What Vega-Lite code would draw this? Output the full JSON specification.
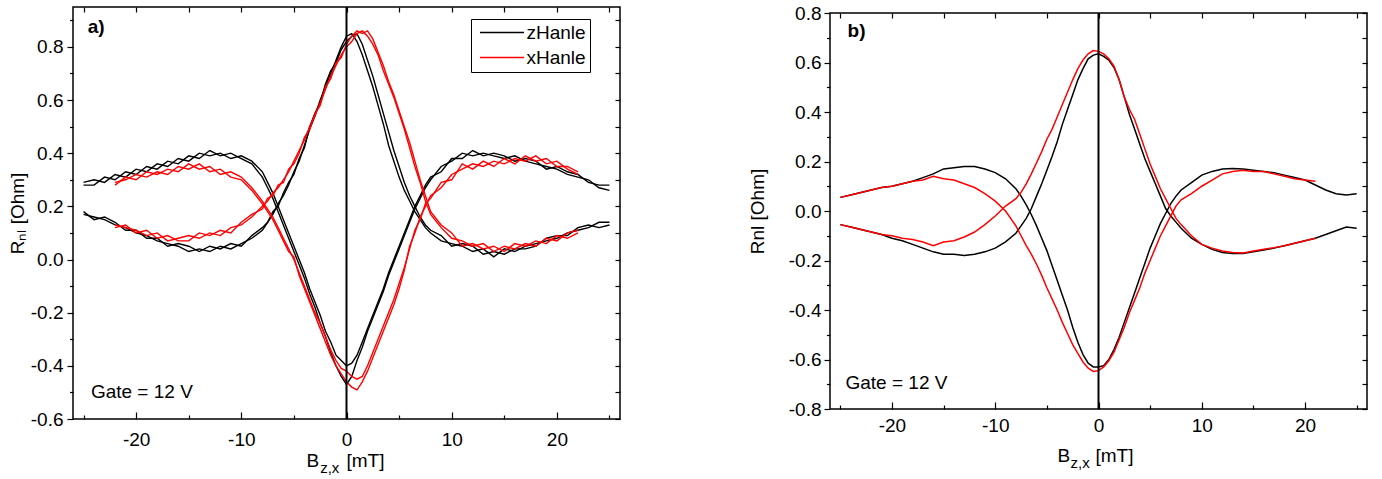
{
  "$schema": "https://vega.github.io/schema/vega-lite/v6.json",
  "background": "white",
  "padding": {"left": 7, "top": 3, "right": 0, "bottom": 0},
  "spacing": 125,
  "config": {
    "font": "Liberation Sans",
    "view": {"stroke": "black", "strokeWidth": 1.5},
    "axis": {"labelFont": "Liberation Sans", "labelFontSize": 19, "labelColor": "black", "tickColor": "black", "tickWidth": 1.2, "domain": false, "grid": false, "titleFont": "Liberation Sans", "titleFontSize": 19, "titleFontWeight": "normal", "titleColor": "black"},
    "legend": {"orient": "none", "symbolType": "M-4,0H4", "symbolSize": 121, "symbolStrokeWidth": 1.5, "labelFontSize": 19, "labelFont": "Liberation Sans", "labelColor": "black", "strokeColor": "black", "strokeWidth": 1, "padding": 4, "rowPadding": 5, "symbolOffset": 17.5, "labelOffset": 15, "fillColor": "white"},
    "text": {"font": "Liberation Sans", "fontSize": 19, "color": "black"}
  },
  "datasets": {
    "a": [
      {"B":-25,"zP1":0.17,"zP2":0.18,"zD1":0.28,"zD2":0.29},
      {"B":-24,"zP1":0.16,"zP2":0.15,"zD1":0.28,"zD2":0.30},
      {"B":-23,"zP1":0.15,"zP2":0.16,"zD1":0.31,"zD2":0.29},
      {"B":-22,"zP1":0.13,"zP2":0.14,"zD1":0.30,"zD2":0.32,"xP1":0.13,"xP2":0.12,"xD1":0.29,"xD2":0.28},
      {"B":-21,"zP1":0.12,"zP2":0.11,"zD1":0.33,"zD2":0.31,"xP1":0.12,"xP2":0.13,"xD1":0.30,"xD2":0.31},
      {"B":-20,"zP1":0.10,"zP2":0.11,"zD1":0.32,"zD2":0.34,"xP1":0.11,"xP2":0.10,"xD1":0.32,"xD2":0.30},
      {"B":-19,"zP1":0.09,"zP2":0.08,"zD1":0.35,"zD2":0.33,"xP1":0.09,"xP2":0.11,"xD1":0.31,"xD2":0.33},
      {"B":-18,"zP1":0.07,"zP2":0.08,"zD1":0.34,"zD2":0.36,"xP1":0.10,"xP2":0.08,"xD1":0.33,"xD2":0.32},
      {"B":-17,"zP1":0.06,"zP2":0.05,"zD1":0.37,"zD2":0.35,"xP1":0.07,"xP2":0.09,"xD1":0.32,"xD2":0.34},
      {"B":-16,"zP1":0.05,"zP2":0.06,"zD1":0.36,"zD2":0.38,"xP1":0.08,"xP2":0.07,"xD1":0.35,"xD2":0.33},
      {"B":-15,"zP1":0.03,"zP2":0.05,"zD1":0.39,"zD2":0.37,"xP1":0.09,"xP2":0.07,"xD1":0.34,"xD2":0.36},
      {"B":-14,"zP1":0.04,"zP2":0.03,"zD1":0.38,"zD2":0.40,"xP1":0.08,"xP2":0.10,"xD1":0.36,"xD2":0.34},
      {"B":-13,"zP1":0.03,"zP2":0.05,"zD1":0.41,"zD2":0.39,"xP1":0.10,"xP2":0.09,"xD1":0.33,"xD2":0.35},
      {"B":-12,"zP1":0.05,"zP2":0.04,"zD1":0.39,"zD2":0.40,"xP1":0.09,"xP2":0.11,"xD1":0.34,"xD2":0.32},
      {"B":-11,"zP1":0.04,"zP2":0.06,"zD1":0.40,"zD2":0.38,"xP1":0.12,"xP2":0.10,"xD1":0.31,"xD2":0.33},
      {"B":-10,"zP1":0.06,"zP2":0.05,"zD1":0.38,"zD2":0.39,"xP1":0.13,"xP2":0.14,"xD1":0.30,"xD2":0.31},
      {"B":-9,"zP1":0.08,"zP2":0.09,"zD1":0.36,"zD2":0.37,"xP1":0.16,"xP2":0.17,"xD1":0.26,"xD2":0.27},
      {"B":-8,"zP1":0.11,"zP2":0.12,"zD1":0.31,"zD2":0.33,"xP1":0.20,"xP2":0.19,"xD1":0.21,"xD2":0.22},
      {"B":-7.5,"zP1":0.14,"zP2":0.14,"zD1":0.27,"zD2":0.29,"xP1":0.22,"xP2":0.23,"xD1":0.18,"xD2":0.19},
      {"B":-7,"zP1":0.17,"zP2":0.18,"zD1":0.23,"zD2":0.25,"xP1":0.25,"xP2":0.24,"xD1":0.15,"xD2":0.16},
      {"B":-6.5,"zP1":0.21,"zP2":0.20,"zD1":0.18,"zD2":0.20,"xP1":0.27,"xP2":0.28,"xD1":0.11,"xD2":0.12},
      {"B":-6,"zP1":0.24,"zP2":0.25,"zD1":0.13,"zD2":0.15,"xP1":0.30,"xP2":0.29,"xD1":0.07,"xD2":0.08},
      {"B":-5.5,"zP1":0.28,"zP2":0.29,"zD1":0.08,"zD2":0.10,"xP1":0.33,"xP2":0.34,"xD1":0.03,"xD2":0.04},
      {"B":-5,"zP1":0.33,"zP2":0.32,"zD1":0.03,"zD2":0.05,"xP1":0.37,"xP2":0.36,"xD1":0.01,"xD2":0.00},
      {"B":-4.5,"zP1":0.37,"zP2":0.38,"zD1":-0.02,"zD2":0.00,"xP1":0.41,"xP2":0.40,"xD1":-0.06,"xD2":-0.05},
      {"B":-4,"zP1":0.43,"zP2":0.42,"zD1":-0.07,"zD2":-0.05,"xP1":0.45,"xP2":0.46,"xD1":-0.11,"xD2":-0.10},
      {"B":-3.5,"zP1":0.49,"zP2":0.50,"zD1":-0.13,"zD2":-0.11,"xP1":0.50,"xP2":0.49,"xD1":-0.16,"xD2":-0.15},
      {"B":-3,"zP1":0.54,"zP2":0.55,"zD1":-0.18,"zD2":-0.16,"xP1":0.54,"xP2":0.55,"xD1":-0.21,"xD2":-0.20},
      {"B":-2.5,"zP1":0.60,"zP2":0.59,"zD1":-0.24,"zD2":-0.21,"xP1":0.59,"xP2":0.58,"xD1":-0.26,"xD2":-0.24},
      {"B":-2,"zP1":0.65,"zP2":0.66,"zD1":-0.29,"zD2":-0.27,"xP1":0.64,"xP2":0.65,"xD1":-0.31,"xD2":-0.29},
      {"B":-1.5,"zP1":0.70,"zP2":0.71,"zD1":-0.35,"zD2":-0.31,"xP1":0.69,"xP2":0.68,"xD1":-0.36,"xD2":-0.34},
      {"B":-1,"zP1":0.75,"zP2":0.74,"zD1":-0.40,"zD2":-0.36,"xP1":0.73,"xP2":0.74,"xD1":-0.40,"xD2":-0.38},
      {"B":-0.5,"zP1":0.80,"zP2":0.79,"zD1":-0.44,"zD2":-0.38,"xP1":0.77,"xP2":0.76,"xD1":-0.43,"xD2":-0.41},
      {"B":0,"zP1":0.84,"zP2":0.82,"zD1":-0.47,"zD2":-0.40,"xP1":0.80,"xP2":0.81,"xD1":-0.46,"xD2":-0.42},
      {"B":0.5,"zP1":0.85,"zP2":0.84,"zD1":-0.44,"zD2":-0.39,"xP1":0.82,"xP2":0.84,"xD1":-0.48,"xD2":-0.44},
      {"B":1,"zP1":0.82,"zP2":0.85,"zD1":-0.38,"zD2":-0.36,"xP1":0.85,"xP2":0.86,"xD1":-0.49,"xD2":-0.45},
      {"B":1.5,"zP1":0.77,"zP2":0.81,"zD1":-0.33,"zD2":-0.31,"xP1":0.86,"xP2":0.85,"xD1":-0.46,"xD2":-0.44},
      {"B":2,"zP1":0.71,"zP2":0.75,"zD1":-0.27,"zD2":-0.26,"xP1":0.84,"xP2":0.86,"xD1":-0.42,"xD2":-0.40},
      {"B":2.5,"zP1":0.65,"zP2":0.69,"zD1":-0.22,"zD2":-0.21,"xP1":0.81,"xP2":0.83,"xD1":-0.37,"xD2":-0.35},
      {"B":3,"zP1":0.58,"zP2":0.62,"zD1":-0.17,"zD2":-0.16,"xP1":0.77,"xP2":0.78,"xD1":-0.32,"xD2":-0.30},
      {"B":3.5,"zP1":0.51,"zP2":0.55,"zD1":-0.12,"zD2":-0.11,"xP1":0.71,"xP2":0.73,"xD1":-0.27,"xD2":-0.25},
      {"B":4,"zP1":0.43,"zP2":0.48,"zD1":-0.06,"zD2":-0.05,"xP1":0.66,"xP2":0.67,"xD1":-0.22,"xD2":-0.20},
      {"B":4.5,"zP1":0.37,"zP2":0.41,"zD1":-0.01,"zD2":0.00,"xP1":0.61,"xP2":0.62,"xD1":-0.17,"xD2":-0.15},
      {"B":5,"zP1":0.31,"zP2":0.35,"zD1":0.04,"zD2":0.05,"xP1":0.55,"xP2":0.56,"xD1":-0.11,"xD2":-0.09},
      {"B":5.5,"zP1":0.26,"zP2":0.29,"zD1":0.09,"zD2":0.10,"xP1":0.49,"xP2":0.50,"xD1":-0.04,"xD2":-0.03},
      {"B":6,"zP1":0.22,"zP2":0.24,"zD1":0.14,"zD2":0.15,"xP1":0.42,"xP2":0.44,"xD1":0.05,"xD2":0.04},
      {"B":6.5,"zP1":0.18,"zP2":0.20,"zD1":0.19,"zD2":0.20,"xP1":0.35,"xP2":0.37,"xD1":0.10,"xD2":0.11},
      {"B":7,"zP1":0.15,"zP2":0.16,"zD1":0.23,"zD2":0.24,"xP1":0.29,"xP2":0.30,"xD1":0.16,"xD2":0.15},
      {"B":7.5,"zP1":0.12,"zP2":0.13,"zD1":0.27,"zD2":0.28,"xP1":0.22,"xP2":0.24,"xD1":0.20,"xD2":0.21},
      {"B":8,"zP1":0.10,"zP2":0.11,"zD1":0.30,"zD2":0.31,"xP1":0.17,"xP2":0.18,"xD1":0.24,"xD2":0.23},
      {"B":9,"zP1":0.07,"zP2":0.09,"zD1":0.35,"zD2":0.33,"xP1":0.12,"xP2":0.13,"xD1":0.27,"xD2":0.29},
      {"B":10,"zP1":0.06,"zP2":0.05,"zD1":0.37,"zD2":0.38,"xP1":0.08,"xP2":0.10,"xD1":0.32,"xD2":0.30},
      {"B":11,"zP1":0.05,"zP2":0.06,"zD1":0.40,"zD2":0.38,"xP1":0.07,"xP2":0.05,"xD1":0.34,"xD2":0.36},
      {"B":12,"zP1":0.03,"zP2":0.05,"zD1":0.39,"zD2":0.41,"xP1":0.05,"xP2":0.06,"xD1":0.36,"xD2":0.34},
      {"B":13,"zP1":0.04,"zP2":0.02,"zD1":0.40,"zD2":0.39,"xP1":0.06,"xP2":0.04,"xD1":0.35,"xD2":0.37},
      {"B":14,"zP1":0.01,"zP2":0.03,"zD1":0.39,"zD2":0.40,"xP1":0.03,"xP2":0.05,"xD1":0.37,"xD2":0.35},
      {"B":15,"zP1":0.04,"zP2":0.02,"zD1":0.38,"zD2":0.39,"xP1":0.05,"xP2":0.03,"xD1":0.36,"xD2":0.38},
      {"B":16,"zP1":0.03,"zP2":0.04,"zD1":0.39,"zD2":0.37,"xP1":0.04,"xP2":0.06,"xD1":0.38,"xD2":0.36},
      {"B":17,"zP1":0.05,"zP2":0.04,"zD1":0.37,"zD2":0.38,"xP1":0.06,"xP2":0.05,"xD1":0.37,"xD2":0.39},
      {"B":18,"zP1":0.06,"zP2":0.05,"zD1":0.36,"zD2":0.37,"xP1":0.05,"xP2":0.07,"xD1":0.39,"xD2":0.37},
      {"B":19,"zP1":0.07,"zP2":0.08,"zD1":0.35,"zD2":0.34,"xP1":0.08,"xP2":0.06,"xD1":0.36,"xD2":0.38},
      {"B":20,"zP1":0.08,"zP2":0.09,"zD1":0.34,"zD2":0.35,"xP1":0.07,"xP2":0.09,"xD1":0.37,"xD2":0.35},
      {"B":21,"zP1":0.10,"zP2":0.09,"zD1":0.32,"zD2":0.33,"xP1":0.10,"xP2":0.08,"xD1":0.34,"xD2":0.35},
      {"B":22,"zP1":0.11,"zP2":0.12,"zD1":0.31,"zD2":0.32,"xP1":0.11,"xP2":0.10,"xD1":0.32,"xD2":0.33},
      {"B":23,"zP1":0.12,"zP2":0.13,"zD1":0.30,"zD2":0.29},
      {"B":24,"zP1":0.14,"zP2":0.12,"zD1":0.27,"zD2":0.28},
      {"B":25,"zP1":0.14,"zP2":0.13,"zD1":0.26,"zD2":0.28}
    ],
    "b": [
      {"B":-25,"zP":-0.055,"zD":0.055,"xP":-0.055,"xD":0.055},
      {"B":-24,"zP":-0.065,"zD":0.065,"xP":-0.065,"xD":0.065},
      {"B":-23,"zP":-0.075,"zD":0.075,"xP":-0.075,"xD":0.075},
      {"B":-22,"zP":-0.085,"zD":0.085,"xP":-0.085,"xD":0.085},
      {"B":-21,"zP":-0.095,"zD":0.095,"xP":-0.095,"xD":0.095},
      {"B":-20,"zP":-0.11,"zD":0.10,"xP":-0.10,"xD":0.10},
      {"B":-19,"zP":-0.12,"zD":0.11,"xP":-0.11,"xD":0.11},
      {"B":-18,"zP":-0.135,"zD":0.12,"xP":-0.115,"xD":0.12},
      {"B":-17,"zP":-0.15,"zD":0.135,"xP":-0.125,"xD":0.125},
      {"B":-16,"zP":-0.165,"zD":0.15,"xP":-0.14,"xD":0.14},
      {"B":-15,"zP":-0.175,"zD":0.17,"xP":-0.125,"xD":0.13},
      {"B":-14,"zP":-0.175,"zD":0.175,"xP":-0.12,"xD":0.125},
      {"B":-13,"zP":-0.18,"zD":0.18,"xP":-0.105,"xD":0.11},
      {"B":-12,"zP":-0.175,"zD":0.18,"xP":-0.085,"xD":0.095},
      {"B":-11,"zP":-0.165,"zD":0.17,"xP":-0.055,"xD":0.07},
      {"B":-10,"zP":-0.15,"zD":0.155,"xP":-0.02,"xD":0.04},
      {"B":-9,"zP":-0.125,"zD":0.13,"xP":0.02,"xD":0.0},
      {"B":-8,"zP":-0.09,"zD":0.09,"xP":0.05,"xD":-0.06},
      {"B":-7.5,"zP":-0.06,"zD":0.06,"xP":0.075,"xD":-0.10},
      {"B":-7,"zP":-0.03,"zD":0.025,"xP":0.11,"xD":-0.14},
      {"B":-6.5,"zP":0.01,"zD":-0.015,"xP":0.15,"xD":-0.175},
      {"B":-6,"zP":0.06,"zD":-0.06,"xP":0.195,"xD":-0.215},
      {"B":-5.5,"zP":0.11,"zD":-0.11,"xP":0.24,"xD":-0.26},
      {"B":-5,"zP":0.165,"zD":-0.16,"xP":0.29,"xD":-0.31},
      {"B":-4.5,"zP":0.22,"zD":-0.22,"xP":0.33,"xD":-0.355},
      {"B":-4,"zP":0.28,"zD":-0.28,"xP":0.38,"xD":-0.40},
      {"B":-3.5,"zP":0.35,"zD":-0.34,"xP":0.43,"xD":-0.45},
      {"B":-3,"zP":0.41,"zD":-0.40,"xP":0.48,"xD":-0.495},
      {"B":-2.5,"zP":0.47,"zD":-0.47,"xP":0.53,"xD":-0.54},
      {"B":-2,"zP":0.53,"zD":-0.53,"xP":0.575,"xD":-0.575},
      {"B":-1.5,"zP":0.575,"zD":-0.58,"xP":0.61,"xD":-0.61},
      {"B":-1,"zP":0.615,"zD":-0.615,"xP":0.635,"xD":-0.635},
      {"B":-0.5,"zP":0.63,"zD":-0.63,"xP":0.648,"xD":-0.648},
      {"B":0,"zP":0.635,"zD":-0.63,"xP":0.645,"xD":-0.645},
      {"B":0.5,"zP":0.625,"zD":-0.625,"xP":0.635,"xD":-0.63},
      {"B":1,"zP":0.61,"zD":-0.60,"xP":0.615,"xD":-0.605},
      {"B":1.5,"zP":0.58,"zD":-0.56,"xP":0.585,"xD":-0.57},
      {"B":2,"zP":0.53,"zD":-0.51,"xP":0.53,"xD":-0.52},
      {"B":2.5,"zP":0.46,"zD":-0.45,"xP":0.46,"xD":-0.47},
      {"B":3,"zP":0.39,"zD":-0.39,"xP":0.41,"xD":-0.41},
      {"B":3.5,"zP":0.33,"zD":-0.33,"xP":0.37,"xD":-0.36},
      {"B":4,"zP":0.27,"zD":-0.27,"xP":0.31,"xD":-0.31},
      {"B":4.5,"zP":0.21,"zD":-0.21,"xP":0.25,"xD":-0.25},
      {"B":5,"zP":0.16,"zD":-0.15,"xP":0.19,"xD":-0.20},
      {"B":5.5,"zP":0.11,"zD":-0.10,"xP":0.14,"xD":-0.15},
      {"B":6,"zP":0.06,"zD":-0.05,"xP":0.09,"xD":-0.10},
      {"B":6.5,"zP":0.01,"zD":-0.01,"xP":0.05,"xD":-0.06},
      {"B":7,"zP":-0.02,"zD":0.03,"xP":0.01,"xD":-0.02},
      {"B":7.5,"zP":-0.045,"zD":0.06,"xP":-0.03,"xD":0.02},
      {"B":8,"zP":-0.07,"zD":0.085,"xP":-0.055,"xD":0.045},
      {"B":9,"zP":-0.11,"zD":0.115,"xP":-0.10,"xD":0.07},
      {"B":10,"zP":-0.135,"zD":0.145,"xP":-0.135,"xD":0.10},
      {"B":11,"zP":-0.155,"zD":0.16,"xP":-0.15,"xD":0.125},
      {"B":12,"zP":-0.168,"zD":0.17,"xP":-0.162,"xD":0.15},
      {"B":13,"zP":-0.172,"zD":0.172,"xP":-0.168,"xD":0.16},
      {"B":14,"zP":-0.172,"zD":0.17,"xP":-0.17,"xD":0.165},
      {"B":15,"zP":-0.165,"zD":0.165,"xP":-0.162,"xD":0.16},
      {"B":16,"zP":-0.158,"zD":0.16,"xP":-0.155,"xD":0.16},
      {"B":17,"zP":-0.15,"zD":0.155,"xP":-0.148,"xD":0.15},
      {"B":18,"zP":-0.14,"zD":0.145,"xP":-0.14,"xD":0.14},
      {"B":19,"zP":-0.13,"zD":0.135,"xP":-0.13,"xD":0.13},
      {"B":20,"zP":-0.12,"zD":0.125,"xP":-0.12,"xD":0.125},
      {"B":21,"zP":-0.11,"zD":0.105,"xP":-0.11,"xD":0.12},
      {"B":22,"zP":-0.095,"zD":0.085},
      {"B":23,"zP":-0.08,"zD":0.07},
      {"B":24,"zP":-0.065,"zD":0.065},
      {"B":25,"zP":-0.07,"zD":0.07}
    ]
  },
  "hconcat": [
    {
      "width": 547,
      "height": 412,
      "data": {"name": "a"},
      "resolve": {"axis": {"x": "independent", "y": "independent"}},
      "layer": [
        {
          "transform": [{"fold": ["zP1", "zP2", "zD1", "zD2"], "as": ["k", "R"]}],
          "mark": {"type": "line", "strokeWidth": 1.4},
          "encoding": {
            "x": {"field": "B", "type": "quantitative", "scale": {"domain": [-26, 26], "nice": false, "zero": false},
              "axis": {"orient": "bottom", "title": null, "values": [-25, -20, -15, -10, -5, 0, 5, 10, 15, 20, 25], "labelExpr": "datum.value % 10 === 0 ? replace(datum.label, '\u2212', '-') : ''", "tickSize": {"condition": {"test": "datum.value % 10 === 0", "value": -7}, "value": -4}, "labelPadding": 18}},
            "y": {"field": "R", "type": "quantitative", "scale": {"domain": [-0.6, 0.95], "nice": false, "zero": false},
              "axis": {"orient": "left", "title": "R\u2099\u2097 [Ohm]", "titlePadding": 3, "values": [-0.6, -0.5, -0.4, -0.3, -0.2, -0.1, 0, 0.1, 0.2, 0.3, 0.4, 0.5, 0.6, 0.7, 0.8, 0.9], "labelExpr": "abs(round(datum.value*10)) % 2 === 0 ? replace(format(datum.value, '.1f'), '\u2212', '-') : ''", "tickSize": {"condition": {"test": "abs(round(datum.value*10)) % 2 === 0", "value": 6}, "value": 3.5}, "labelPadding": 4}},
            "color": {"datum": "zHanle", "type": "nominal", "scale": {"domain": ["zHanle", "xHanle"], "range": ["#000000", "#ff0000"]}, "legend": {"title": null, "legendX": 398, "legendY": 12}},
            "detail": {"field": "k", "type": "nominal"}
          }
        },
        {
          "transform": [{"fold": ["xP1", "xP2", "xD1", "xD2"], "as": ["k", "R"]}],
          "mark": {"type": "line", "strokeWidth": 1.4},
          "encoding": {
            "x": {"field": "B", "type": "quantitative",
              "axis": {"orient": "top", "title": null, "labels": false, "values": [-25, -20, -15, -10, -5, 0, 5, 10, 15, 20, 25], "tickSize": -5}},
            "y": {"field": "R", "type": "quantitative",
              "axis": {"orient": "right", "title": null, "labels": false, "values": [-0.6, -0.5, -0.4, -0.3, -0.2, -0.1, 0, 0.1, 0.2, 0.3, 0.4, 0.5, 0.6, 0.7, 0.8, 0.9], "tickSize": -5}},
            "color": {"datum": "xHanle", "type": "nominal"},
            "detail": {"field": "k", "type": "nominal"}
          }
        },
        {
          "data": {"values": [{}]},
          "mark": {"type": "rule", "strokeWidth": 2, "color": "black"},
          "encoding": {"x": {"datum": 0, "type": "quantitative", "axis": null}}
        },
        {
          "data": {"values": [{"t": "a)"}]},
          "mark": {"type": "text", "fontWeight": "bold", "align": "left", "baseline": "middle"},
          "encoding": {"text": {"field": "t"}, "x": {"datum": -24.6, "type": "quantitative", "axis": null}, "y": {"datum": 0.875, "type": "quantitative", "axis": null}}
        },
        {
          "data": {"values": [{"t": "Gate = 12 V"}]},
          "mark": {"type": "text", "align": "left", "baseline": "middle"},
          "encoding": {"text": {"field": "t"}, "x": {"datum": -24.3, "type": "quantitative", "axis": null}, "y": {"datum": -0.5, "type": "quantitative", "axis": null}}
        },
        {
          "data": {"values": [{"t": "B"}]},
          "mark": {"type": "text", "align": "left", "baseline": "alphabetic"},
          "encoding": {"text": {"field": "t"}, "x": {"datum": -3.81, "type": "quantitative", "axis": null}, "y": {"datum": -0.781, "type": "quantitative", "axis": null}}
        },
        {
          "data": {"values": [{"t": "z,x"}]},
          "mark": {"type": "text", "align": "left", "baseline": "alphabetic", "fontSize": 15},
          "encoding": {"text": {"field": "t"}, "x": {"datum": -2.5, "type": "quantitative", "axis": null}, "y": {"datum": -0.802, "type": "quantitative", "axis": null}}
        },
        {
          "data": {"values": [{"t": "[mT]"}]},
          "mark": {"type": "text", "align": "left", "baseline": "alphabetic"},
          "encoding": {"text": {"field": "t"}, "x": {"datum": 0.0, "type": "quantitative", "axis": null}, "y": {"datum": -0.781, "type": "quantitative", "axis": null}}
        }
      ]
    },
    {
      "bounds": "flush",
      "spacing": 5,
      "vconcat": [
        {
          "width": 537,
          "height": 1,
          "view": {"stroke": null},
          "data": {"values": [{}]},
          "mark": {"type": "point", "opacity": 0},
          "encoding": {}
        },
        {
          "width": 537,
          "height": 396,
          "data": {"name": "b"},
          "resolve": {"axis": {"x": "independent", "y": "independent"}},
          "layer": [
            {
              "transform": [{"fold": ["zP", "zD"], "as": ["k", "R"]}],
              "mark": {"type": "line", "strokeWidth": 1.5},
              "encoding": {
                "x": {"field": "B", "type": "quantitative", "scale": {"domain": [-26, 26], "nice": false, "zero": false},
                  "axis": {"orient": "bottom", "title": null, "values": [-25, -20, -15, -10, -5, 0, 5, 10, 15, 20, 25], "labelExpr": "datum.value % 10 === 0 ? replace(datum.label, '\u2212', '-') : ''", "tickSize": {"condition": {"test": "datum.value % 10 === 0", "value": -7}, "value": -4}, "labelPadding": 14}},
                "y": {"field": "R", "type": "quantitative", "scale": {"domain": [-0.8, 0.8], "nice": false, "zero": false},
                  "axis": {"orient": "left", "title": "Rnl [Ohm]", "titlePadding": 21, "values": [-0.8, -0.7, -0.6, -0.5, -0.4, -0.3, -0.2, -0.1, 0, 0.1, 0.2, 0.3, 0.4, 0.5, 0.6, 0.7, 0.8], "labelExpr": "abs(round(datum.value*10)) % 2 === 0 ? replace(format(datum.value, '.1f'), '\u2212', '-') : ''", "tickSize": {"condition": {"test": "abs(round(datum.value*10)) % 2 === 0", "value": 6}, "value": 3.5}, "labelPadding": 3}},
                "color": {"datum": "zHanle", "type": "nominal", "scale": {"domain": ["zHanle", "xHanle"], "range": ["#000000", "#ff0000"]}, "legend": {"title": null, "legendX": 398, "legendY": 11}},
                "detail": {"field": "k", "type": "nominal"}
              }
            },
            {
              "transform": [{"fold": ["xP", "xD"], "as": ["k", "R"]}],
              "mark": {"type": "line", "strokeWidth": 1.5},
              "encoding": {
                "x": {"field": "B", "type": "quantitative",
                  "axis": {"orient": "top", "title": null, "labels": false, "values": [-25, -20, -15, -10, -5, 0, 5, 10, 15, 20, 25], "tickSize": -5}},
                "y": {"field": "R", "type": "quantitative",
                  "axis": {"orient": "right", "title": null, "labels": false, "values": [-0.8, -0.7, -0.6, -0.5, -0.4, -0.3, -0.2, -0.1, 0, 0.1, 0.2, 0.3, 0.4, 0.5, 0.6, 0.7, 0.8], "tickSize": -5}},
                "color": {"datum": "xHanle", "type": "nominal"},
                "detail": {"field": "k", "type": "nominal"}
              }
            },
            {
              "data": {"values": [{}]},
              "mark": {"type": "rule", "strokeWidth": 2, "color": "black"},
              "encoding": {"x": {"datum": 0, "type": "quantitative", "axis": null}}
            },
            {
              "data": {"values": [{"t": "b)"}]},
              "mark": {"type": "text", "fontWeight": "bold", "align": "left", "baseline": "middle"},
              "encoding": {"text": {"field": "t"}, "x": {"datum": -24.3, "type": "quantitative", "axis": null}, "y": {"datum": 0.727, "type": "quantitative", "axis": null}}
            },
            {
              "data": {"values": [{"t": "Gate = 12 V"}]},
              "mark": {"type": "text", "align": "left", "baseline": "middle"},
              "encoding": {"text": {"field": "t"}, "x": {"datum": -24.5, "type": "quantitative", "axis": null}, "y": {"datum": -0.693, "type": "quantitative", "axis": null}}
            },
            {
              "data": {"values": [{"t": "B"}]},
              "mark": {"type": "text", "align": "left", "baseline": "alphabetic"},
              "encoding": {"text": {"field": "t"}, "x": {"datum": -3.97, "type": "quantitative", "axis": null}, "y": {"datum": -1.015, "type": "quantitative", "axis": null}}
            },
            {
              "data": {"values": [{"t": "z,x"}]},
              "mark": {"type": "text", "align": "left", "baseline": "alphabetic", "fontSize": 15},
              "encoding": {"text": {"field": "t"}, "x": {"datum": -2.71, "type": "quantitative", "axis": null}, "y": {"datum": -1.04, "type": "quantitative", "axis": null}}
            },
            {
              "data": {"values": [{"t": "[mT]"}]},
              "mark": {"type": "text", "align": "left", "baseline": "alphabetic"},
              "encoding": {"text": {"field": "t"}, "x": {"datum": -0.29, "type": "quantitative", "axis": null}, "y": {"datum": -1.015, "type": "quantitative", "axis": null}}
            }
          ]
        }
      ]
    }
  ]
}
